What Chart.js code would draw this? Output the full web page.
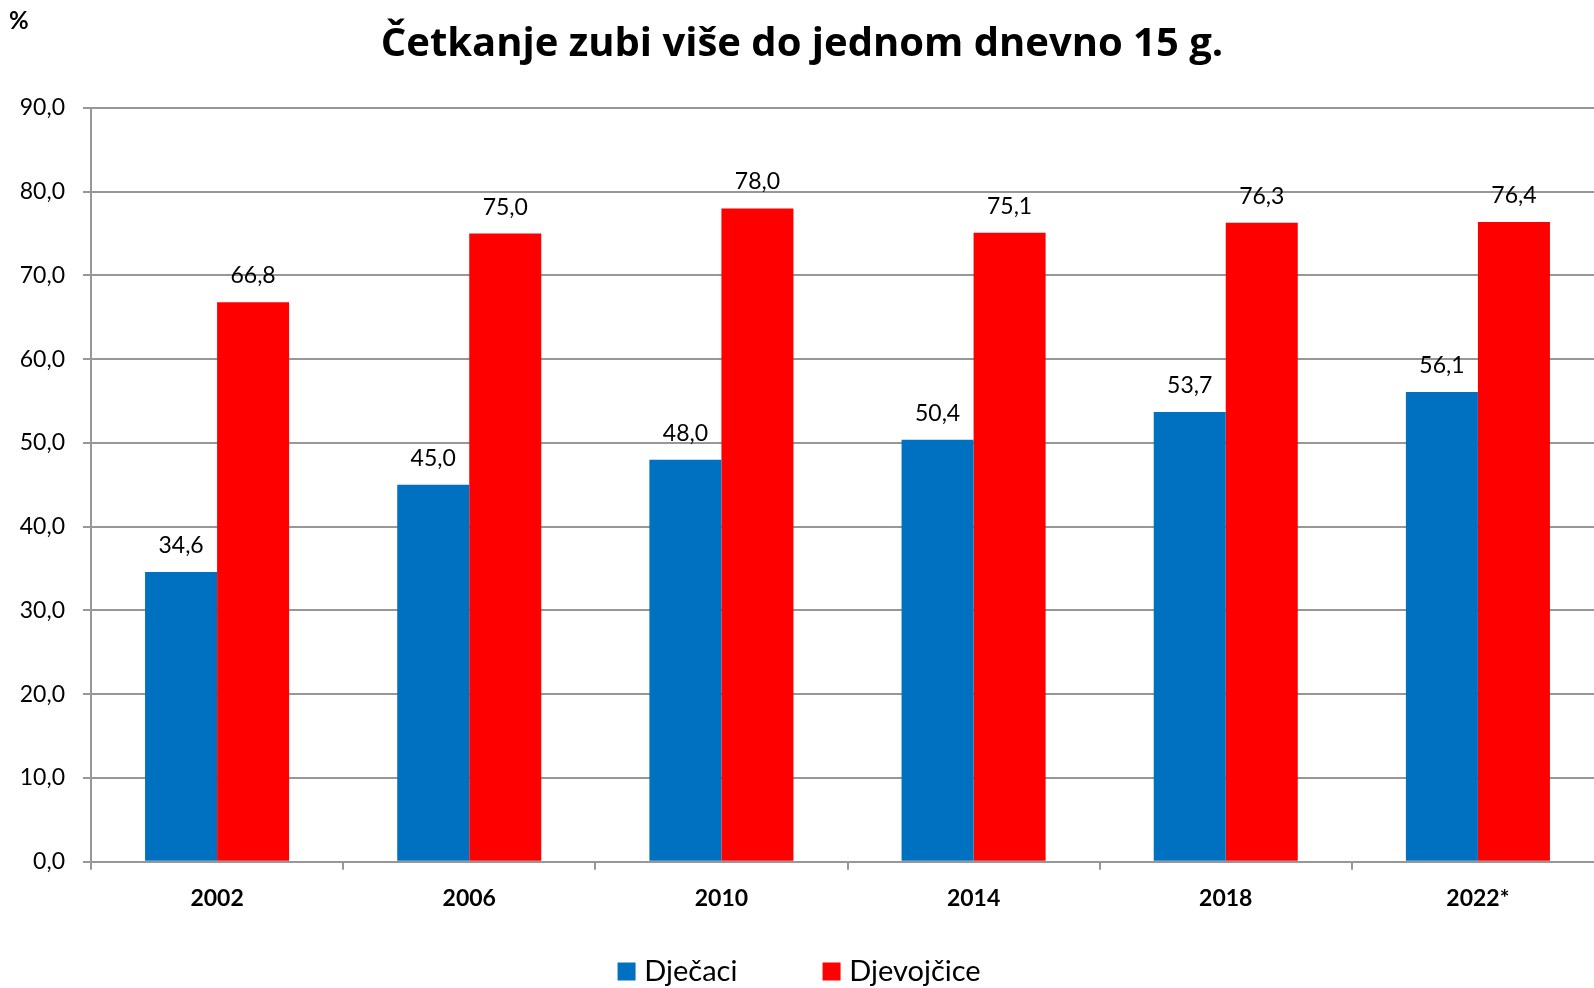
<!DOCTYPE html>
<html>
<head>
<meta charset="utf-8">
<script src="https://cdn.jsdelivr.net/npm/chart.js@4"></script>
<style>
  html, body { margin: 0; padding: 0; background: #fff; overflow: hidden; width: 1594px; height: 988px; }
  canvas { display: block; }
</style>
</head>
<body>
<canvas id="c" width="1604" height="996"></canvas>
<script>
const titleText = 'Četkanje zubi više do jednom dnevno 15 g.';
const unitLabel = '%';
const years = ['2002', '2006', '2010', '2014', '2018', '2022*'];
const seriesNames = ['Dječaci', 'Djevojčice'];
const boys = [34.6, 45.0, 48.0, 50.4, 53.7, 56.1];
const girls = [66.8, 75.0, 78.0, 75.1, 76.3, 76.4];
const yMin = 0, yMax = 90, yStep = 10;

const FONT = 'Lato, "Open Sans", sans-serif';
const TITLE_FONT = '"Open Sans", Lato, sans-serif';
const fmt = v => Number(v).toFixed(1).replace('.', ',');

const extras = {
  id: 'extras',
  afterDatasetsDraw(chart) {
    const ctx = chart.ctx;
    ctx.save();
    ctx.fillStyle = '#000';
    ctx.font = '23px ' + FONT;
    ctx.textAlign = 'center';
    ctx.textBaseline = 'alphabetic';
    chart.data.datasets.forEach((ds, i) => {
      const meta = chart.getDatasetMeta(i);
      meta.data.forEach((el, j) => {
        ctx.fillText(fmt(ds.data[j]), el.x, el.y - 19);
      });
    });
    ctx.font = 'bold 24px ' + FONT;
    ctx.textAlign = 'left';
    ctx.fillText(unitLabel, 9, 29);
    ctx.restore();
  }
};

new Chart(document.getElementById('c'), {
  type: 'bar',
  data: {
    labels: years,
    datasets: [
      { label: seriesNames[0], data: boys, backgroundColor: '#0070C0', borderWidth: 0, pointStyle: 'rect' },
      { label: seriesNames[1], data: girls, backgroundColor: '#FF0000', borderWidth: 0, pointStyle: 'rect' }
    ]
  },
  options: {
    responsive: false,
    animation: false,
    devicePixelRatio: 1,
    layout: { padding: { left: 0, right: 0, top: 0, bottom: 0 } },
    datasets: { bar: { categoryPercentage: 0.5712, barPercentage: 1 } },
    plugins: {
      tooltip: { enabled: false },
      title: {
        display: true,
        text: titleText,
        color: '#000',
        font: { family: TITLE_FONT, size: 40, weight: 'bold', lineHeight: 1.2 },
        padding: { top: 21, bottom: 39 }
      },
      legend: {
        position: 'bottom',
        labels: {
          color: '#000',
          font: { family: FONT, size: 29 },
          usePointStyle: true,
          pointStyle: 'rect',
          boxWidth: 6.4,
          boxHeight: 18,
          padding: 91
        }
      }
    },
    scales: {
      x: {
        grid: { display: true, drawOnChartArea: false, drawTicks: true, tickLength: 8, color: '#979797', lineWidth: 2, offset: true },
        border: { display: true, color: '#979797', width: 2 },
        ticks: { color: '#000', font: { family: FONT, size: 23, weight: 'bold', lineHeight: 1.2 }, padding: 15, maxRotation: 0, autoSkip: false },
        afterFit(scale) {
          scale.height = 4.3;
          scale._computeLabelArea = () => undefined;
        }
      },
      y: {
        min: yMin, max: yMax,
        grid: { color: '#979797', lineWidth: 2, drawTicks: true, tickLength: 8 },
        border: { display: true, color: '#979797', width: 2 },
        ticks: { stepSize: yStep, color: '#000', font: { family: FONT, size: 23 }, padding: 18, callback: v => fmt(v) },
        afterFit(scale) { scale.width = 91; }
      }
    }
  },
  plugins: [extras]
});
</script>
</body>
</html>
